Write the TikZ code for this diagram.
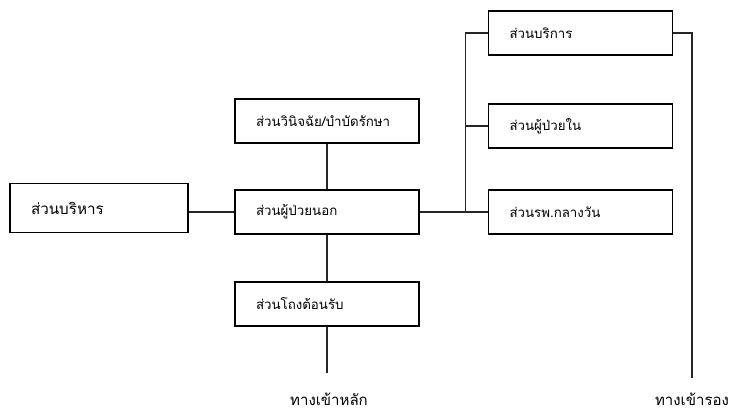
\documentclass[tikz,border=0pt]{standalone}
\usepackage{fontspec}
\newfontfamily\thaifont[Script=Thai]{Loma}
\usetikzlibrary{positioning, calc}
\tikzset{
	zonebox/.style={rectangle, draw=black, line width=1.3pt, fill=white,
		minimum height=44pt, text width=142pt, inner xsep=21pt,
		align=left, font=\thaifont\fontsize{13.3}{15}\selectfont},
	zonelink/.style={line width=1.2pt, draw=black!85},
	gatelabel/.style={font=\thaifont\fontsize{15}{17}\selectfont, inner sep=0pt}
}
\begin{document}
\begin{tikzpicture}[x=1pt, y=-1pt]
	\useasboundingbox (0,0) rectangle (731,414);
	% middle column
	\node[zonebox] (diag) at (327,121) {ส่วนวินิจฉัย/บำบัดรักษา};
	\node[zonebox] (opd) at (327,212) {ส่วนผู้ป่วยนอก};
	\node[zonebox] (lobby) at (327,304) {ส่วนโถงต้อนรับ};
	\node[zonebox, text width=136pt, minimum height=49pt,
		font=\thaifont\fontsize{15.2}{17}\selectfont] (admin) at (99,208) {ส่วนบริหาร};
	% right column
	\node[zonebox] (service) at (580.5,33) {ส่วนบริการ};
	\node[zonebox] (ipd) at (580.5,126) {ส่วนผู้ป่วยใน};
	\node[zonebox] (daycare) at (580.5,212) {ส่วนรพ.กลางวัน};
	% gates
	\coordinate (mainGate) at (327,373);
	\coordinate (sideGate) at (692,378);
	\node[gatelabel] (mainLbl) at (329,399) {ทางเข้าหลัก};
	\node[gatelabel] (sideLbl) at (692,399) {ทางเข้ารอง};
	% links
	\coordinate (busTop) at ([xshift=-22pt]service.west);
	\draw[zonelink] (opd.west) -- (opd.west -| admin.east);
	\draw[zonelink] (diag) -- (opd);
	\draw[zonelink] (opd) -- (lobby);
	\draw[zonelink] (lobby.south) -- (mainGate);
	\draw[zonelink] (opd.east) -- (daycare.west);
	\draw[zonelink] (service.west) -- (busTop) -- (busTop |- daycare.west);
	\draw[zonelink] (ipd.west) -- (busTop |- ipd.west);
	\draw[zonelink] (service.east) -| (sideGate);
\end{tikzpicture}
\end{document}
